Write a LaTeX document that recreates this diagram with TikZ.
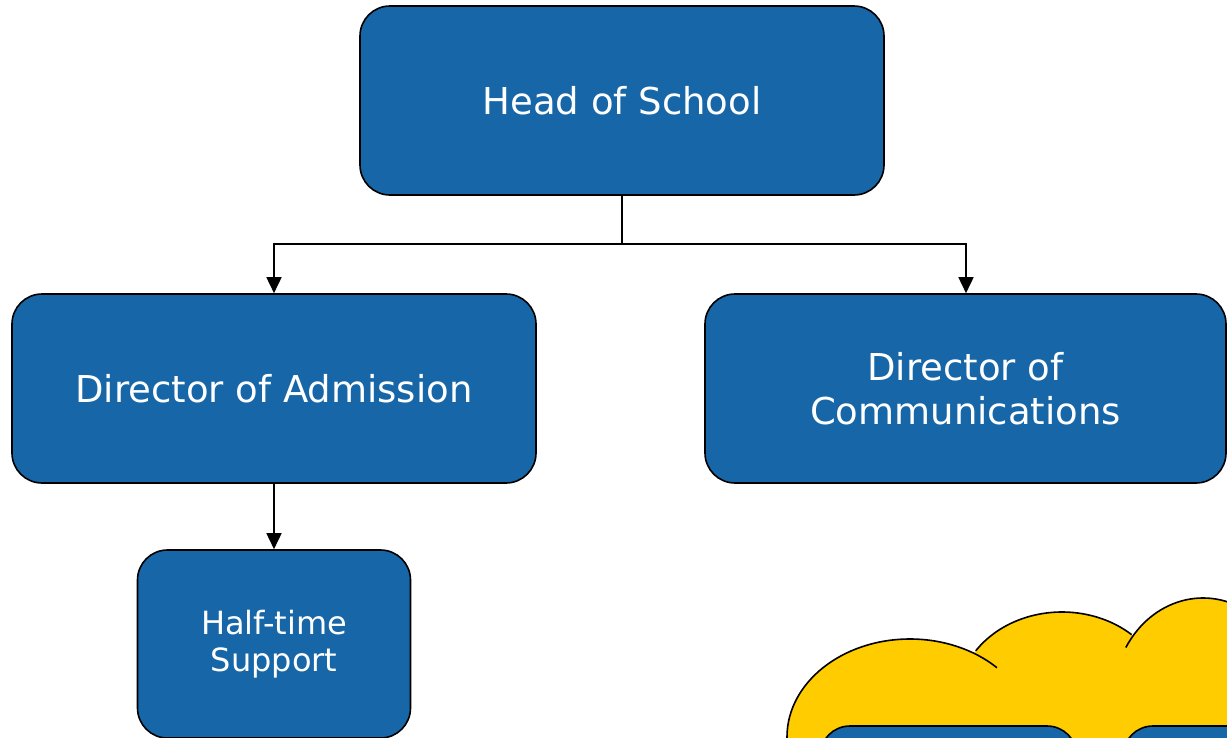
\documentclass[tikz,border=0pt]{standalone}
\usepackage{fontspec}
\setmainfont{DejaVu Sans}
\usetikzlibrary{arrows.meta}
\definecolor{boxblue}{RGB}{22,102,168}
\definecolor{cloudyellow}{RGB}{255,204,0}
\tikzset{
  orgbox/.style={draw=black, line width=1.6pt, fill=boxblue, rounded corners=30pt,
    text=white, align=center, inner sep=0pt},
  bigtext/.style={font=\fontsize{37}{44}\selectfont},
  smalltext/.style={font=\fontsize{32}{37}\selectfont},
  arr/.style={draw=black, line width=1.6pt, -{Triangle[length=16pt,width=15pt]}},
  conn/.style={draw=black, line width=1.6pt},
  cloudline/.style={draw=black, line width=1.6pt}
}
\begin{document}
\begin{tikzpicture}[x=1pt, y=-1pt]
\useasboundingbox (0,0) rectangle (1227,737);
\clip (0,0) rectangle (1227,737);
\fill[white] (0,0) rectangle (1227,737);

% cloud (y-up coordinates inside scope)
\begin{scope}[shift={(0,737)}, y=1pt]
  \fill[cloudyellow] (910,0) ellipse[x radius=123, y radius=98];
  \fill[cloudyellow] (1062,37) ellipse[x radius=104, y radius=88];
  \fill[cloudyellow] (1203,37) ellipse[x radius=90, y radius=102];
  \draw[cloudline] (787,0) arc[start angle=180, end angle=45, x radius=123, y radius=98];
  \draw[cloudline] (1062,37) ++(146:104 and 88) arc[start angle=146, end angle=48, x radius=104, y radius=88];
  \draw[cloudline] (1203,37) ++(149:90 and 102) arc[start angle=149, end angle=0, x radius=90, y radius=102];
  \draw[cloudline] (787,0) -- (787,-10);
\end{scope}

\node[orgbox, bigtext, minimum width=524pt, minimum height=189pt] (head) at (622,100.5) {Head of School};
\node[orgbox, bigtext, minimum width=524pt, minimum height=189pt] (adm) at (274,388.5) {Director of Admission};
\node[orgbox, bigtext, minimum width=521pt, minimum height=189pt] (com) at (965.5,388.5) {Director of\\Communications};
\node[orgbox, smalltext, minimum width=273pt, minimum height=188pt] (half) at (274,644) {Half-time\\Support};
\node[orgbox, minimum width=257pt, minimum height=188pt] (cb1) at (948.5,820) {};
\node[orgbox, minimum width=257pt, minimum height=188pt] (cb2) at (1251.5,820) {};

\coordinate (j) at (622,244);
\draw[conn] (head.south) -- (j);
\draw[arr] (j) -| (adm.north);
\draw[arr] (j) -| (com.north -| 966,0);
\draw[arr] (adm.south) -- (half.north);
\end{tikzpicture}
\end{document}
